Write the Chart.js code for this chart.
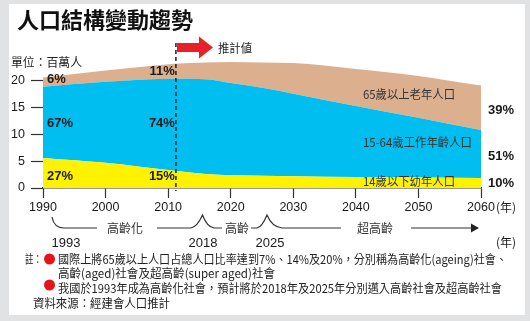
<!DOCTYPE html>
<html><head><meta charset="utf-8">
<script src="https://cdn.jsdelivr.net/npm/chart.js@4"></script>
<style>html,body{margin:0;padding:0;background:#e1e2e4;}canvas{display:block}</style>
</head><body>
<canvas id="c" width="530" height="321"></canvas>
<script>
// ---- data (millions of people) ----
const years   = [1990, 2000, 2011, 2016, 2020, 2025, 2030, 2040, 2050, 2060];
const young   = [5.6, 4.7, 3.2, 2.6, 2.4, 2.3, 2.2, 2.05, 1.95, 1.85];
const working = [13.3, 15.1, 17.2, 17.7, 17.2, 16.4, 15.4, 13.25, 11.15, 8.95];
const elderly = [1.7, 2.1, 2.8, 3.1, 3.9, 4.7, 5.7, 6.9, 7.8, 8.3];
const seriesNames = ['14歲以下幼年人口', '15-64歲工作年齡人口', '65歲以上老年人口'];
const yTicks = [0, 5, 10, 15, 20];
const xTicks = [1990, 2000, 2010, 2020, 2030, 2040, 2050, 2060];
const projectionStart = 2011;
const pct1990 = ['27%', '67%', '6%'];
const pct2011 = ['15%', '74%', '11%'];
const pct2060 = ['10%', '51%', '39%'];
const milestones = ['1993', '2018', '2025'];
const stages = ['高齡化', '高齡', '超高齡'];
const title = '人口結構變動趨勢';
const unitText = '單位：百萬人';
const projText = '推計値';
const notes = [
  '國際上將65歲以上人口占總人口比率達到7%、14%及20%，分別稱為高齡化(ageing)社會、',
  '高齡(aged)社會及超高齡(super aged)社會',
  '我國於1993年成為高齡化社會，預計將於2018年及2025年分別邁入高齡社會及超高齡社會'
];
const sourceText = '資料來源：經建會人口推計';

const CJK = '"Noto Sans CJK TC", "Noto Sans CJK SC", sans-serif';
const NUM = '"Liberation Sans", Arial, sans-serif';

function fitText(ctx, text, x, y, w) {
  const m = ctx.measureText(text).width;
  ctx.save();
  ctx.translate(x, y);
  ctx.scale(w / m, 1);
  ctx.textAlign = 'left';
  ctx.fillText(text, 0, 0);
  ctx.restore();
}

const deco = {
  id: 'deco',
  beforeDraw(chart) {
    const ctx = chart.ctx;
    ctx.save();
    ctx.fillStyle = '#e1e2e4';
    ctx.fillRect(0, 0, 530, 321);
    ctx.fillStyle = '#ffffff';
    ctx.fillRect(9, 4, 516, 311);
    ctx.restore();
  },
  afterDraw(chart) {
    const ctx = chart.ctx;
    const xs = chart.scales.x, ys = chart.scales.y;
    const ca = chart.chartArea;
    ctx.save();
    // title
    ctx.fillStyle = '#111';
    ctx.textBaseline = 'middle';
    ctx.font = 'bold 22px ' + CJK;
    ctx.textAlign = 'left';
    ctx.fillText(title, 17, 20);
    // unit
    ctx.font = '12px ' + CJK;
    ctx.fillStyle = '#222';
    fitText(ctx, unitText, 11, 62, 71);
    // dashed projection line
    const xp = xs.getPixelForValue(projectionStart);
    ctx.strokeStyle = '#222';
    ctx.lineWidth = 1.5;
    ctx.setLineDash([4, 3]);
    ctx.beginPath();
    ctx.moveTo(xp + 1.5, 43);
    ctx.lineTo(xp + 1.5, ca.bottom + 3);
    ctx.stroke();
    ctx.setLineDash([]);
    // red arrow
    ctx.fillStyle = '#e8202a';
    ctx.beginPath();
    ctx.moveTo(177, 43); ctx.lineTo(199, 43); ctx.lineTo(199, 36.5);
    ctx.lineTo(213, 47.5); ctx.lineTo(199, 58.5); ctx.lineTo(199, 52);
    ctx.lineTo(177, 52); ctx.closePath(); ctx.fill();
    ctx.fillStyle = '#222';
    ctx.font = '12px ' + CJK;
    fitText(ctx, projText, 218, 48, 34);

    // percentage labels
    const stackTops = years.map((y, i) => [young[i], young[i] + working[i], young[i] + working[i] + elderly[i]]);
    const first = 0, last = years.length - 1;
    const iProj = years.indexOf(projectionStart);
    const mid = (i, k) => {
      const lo = k === 0 ? 0 : stackTops[i][k - 1];
      return (ys.getPixelForValue(lo) + ys.getPixelForValue(stackTops[i][k])) / 2;
    };
    ctx.font = 'bold 13px ' + NUM;
    ctx.fillStyle = '#1a1a1a';
    const nud1990 = [3, 1, -3], nud2011 = [-3, -1, 0], nud2060 = [0, 2, 3];
    ctx.textAlign = 'left';
    pct1990.forEach((t, k) => ctx.fillText(t, xs.getPixelForValue(years[first]) + 4, mid(first, k) + nud1990[k]));
    ctx.textAlign = 'right';
    pct2011.forEach((t, k) => ctx.fillText(t, xp + 0.5, mid(iProj, k) + nud2011[k]));
    ctx.textAlign = 'left';
    pct2060.forEach((t, k) => ctx.fillText(t, xs.getPixelForValue(years[last]) + 7, mid(last, k) + nud2060[k]));

    // series names
    ctx.font = '12px ' + CJK;
    ctx.fillStyle = '#333';
    fitText(ctx, seriesNames[2], 363, 94, 92);
    fitText(ctx, seriesNames[1], 363, 142, 109);
    fitText(ctx, seriesNames[0], 363, 181, 92);

    // (年) after 2060 label
    ctx.font = '12px ' + CJK;
    ctx.fillStyle = '#222';
    ctx.textAlign = 'left';
    ctx.fillText('(年)', 496, 207);

    // timeline brackets
    ctx.strokeStyle = '#333';
    ctx.lineWidth = 1.2;
    const yl = 228, yp = 215;
    ctx.beginPath();
    ctx.moveTo(52, yp + 2); ctx.quadraticCurveTo(54, yl, 64, yl); ctx.lineTo(97, yl);
    ctx.moveTo(157, yl); ctx.lineTo(191, yl); ctx.quadraticCurveTo(197, yl - 1, 202.5, yp);
    ctx.quadraticCurveTo(207, yl - 1, 214, yl); ctx.lineTo(222, yl);
    ctx.moveTo(251, yl); ctx.lineTo(257, yl); ctx.quadraticCurveTo(262, yl - 1, 267, yp);
    ctx.quadraticCurveTo(272, yl - 1, 282, yl); ctx.lineTo(341, yl);
    ctx.moveTo(411, yl); ctx.lineTo(472, yl);
    ctx.stroke();
    ctx.fillStyle = '#222';
    ctx.beginPath();
    ctx.moveTo(471, yl - 4.5); ctx.lineTo(479, yl); ctx.lineTo(471, yl + 4.5); ctx.closePath(); ctx.fill();
    ctx.font = '12px ' + CJK;
    ctx.textAlign = 'center';
    ctx.fillStyle = '#333';
    ctx.fillText(stages[0], 125, yl);
    ctx.fillText(stages[1], 237, yl);
    ctx.fillText(stages[2], 375, yl);
    // milestones
    ctx.font = '13px ' + NUM;
    ctx.fillStyle = '#1a1a1a';
    ctx.fillText(milestones[0], 66, 243);
    ctx.fillText(milestones[1], 203, 243);
    ctx.fillText(milestones[2], 270, 243);
    ctx.font = '12px ' + CJK;
    ctx.textAlign = 'left';
    ctx.fillText('(年)', 496, 242);

    // notes
    ctx.font = '12px ' + CJK;
    ctx.fillStyle = '#222';
    fitText(ctx, '註：', 25, 259, 17);
    ctx.fillStyle = '#e3141b';
    ctx.beginPath(); ctx.arc(49.5, 259, 5.5, 0, Math.PI * 2); ctx.fill();
    ctx.beginPath(); ctx.arc(49.5, 285, 5.5, 0, Math.PI * 2); ctx.fill();
    ctx.fillStyle = '#222';
    fitText(ctx, notes[0], 58, 259, 449);
    fitText(ctx, notes[1], 58, 273, 217);
    fitText(ctx, notes[2], 58, 288, 444);
    fitText(ctx, sourceText, 33, 303, 137);
    ctx.restore();
  }
};

const pts = arr => years.map((y, i) => ({ x: y, y: arr[i] }));
new Chart(document.getElementById('c'), {
  type: 'line',
  data: {
    datasets: [
      { label: seriesNames[0], data: pts(young), fill: 'origin', backgroundColor: '#fff200' },
      { label: seriesNames[1], data: pts(working), fill: '-1', backgroundColor: '#00bef0' },
      { label: seriesNames[2], data: pts(elderly), fill: '-1', backgroundColor: '#dcb08e' }
    ]
  },
  options: {
    responsive: false,
    animation: false,
    devicePixelRatio: 1,
    layout: { padding: { left: 0, top: 54, right: 49, bottom: 0 } },
    elements: {
      line: { borderWidth: 0, borderColor: 'rgba(0,0,0,0)', cubicInterpolationMode: 'monotone' },
      point: { radius: 0, hitRadius: 0, hoverRadius: 0 }
    },
    plugins: { legend: { display: false }, tooltip: { enabled: false } },
    scales: {
      x: {
        type: 'linear', min: xTicks[0], max: xTicks[xTicks.length - 1],
        afterBuildTicks: s => { s.ticks = xTicks.map(v => ({ value: v })); },
        afterFit: s => { s.height = 133; },
        ticks: { color: '#1a1a1a', font: { size: 12.5, family: NUM }, padding: 2, maxRotation: 0, autoSkip: false, callback: v => String(v) },
        grid: { drawOnChartArea: false, drawTicks: true, tickLength: 10, tickColor: '#333', tickWidth: 1.2 },
        border: { display: true, color: '#333', width: 1.5 }
      },
      y: {
        stacked: true, min: 0, max: 25,
        afterBuildTicks: s => { s.ticks = yTicks.map(v => ({ value: v })); },
        afterFit: s => { s.width = 43; },
        ticks: { color: '#1a1a1a', font: { size: 12.5, family: NUM }, padding: 6 },
        grid: { drawOnChartArea: false, drawTicks: true, tickLength: 12, tickColor: '#333', tickWidth: 1.2 },
        border: { display: false }
      }
    }
  },
  plugins: [deco]
});
</script>
</body></html>
